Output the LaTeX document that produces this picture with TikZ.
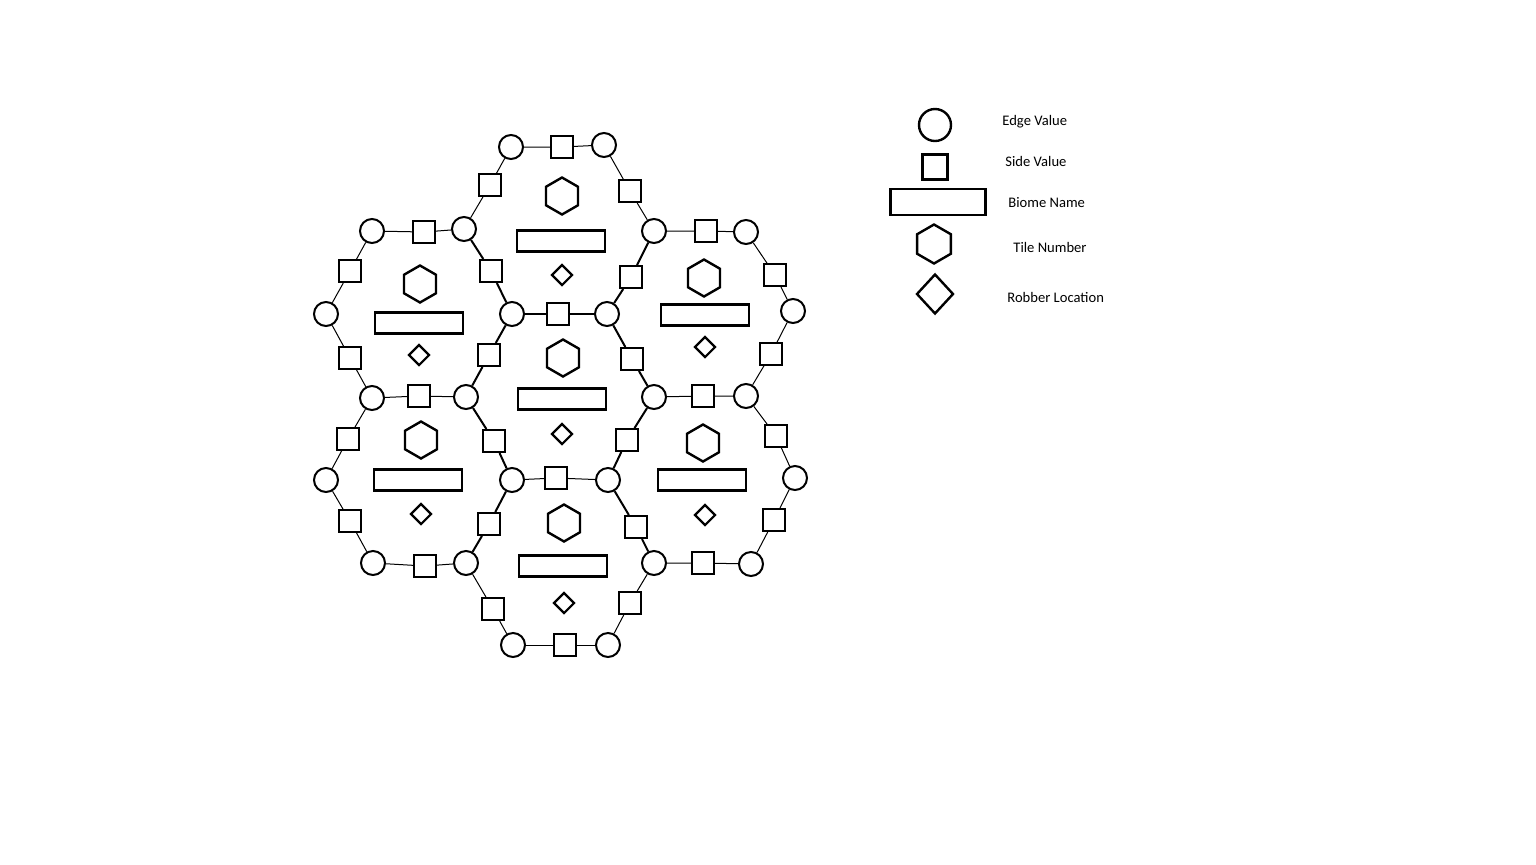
\documentclass[tikz,border=0pt]{standalone}
\usepackage{fontspec}
\setmainfont{Carlito}
\usetikzlibrary{shapes.geometric}

\begin{document}
\begin{tikzpicture}[x=0.5pt, y=-0.5pt,
	corner/.style={draw, circle, line width=1pt, minimum size=12pt, inner sep=0pt, fill=white},
	sidebox/.style={draw, rectangle, line width=1pt, minimum size=11pt, inner sep=0pt, fill=white},
	biome/.style={draw, rectangle, line width=1.2pt, minimum width=44pt, minimum height=10.5pt, inner sep=0pt},
	tile/.style={draw, regular polygon, regular polygon sides=6, shape border rotate=30, line width=1.2pt, minimum size=18.5pt, inner sep=0pt},
	robber/.style={draw, diamond, line width=1.1pt, minimum width=10.5pt, minimum height=10.5pt, inner sep=0pt},
	outer/.style={line width=0.5pt},
	inner/.style={line width=1pt},
	legendtext/.style={anchor=west, inner sep=0pt, font=\fontsize{7.3}{9}\selectfont}]
	\useasboundingbox (0, 0) rectangle (1536, 864);

	\node[corner] (a1) at (511, 147) {};
	\node[corner] (a2) at (604, 145) {};
	\node[corner] (a3) at (654, 231) {};
	\node[corner] (a4) at (607, 314) {};
	\node[corner] (a5) at (512, 314) {};
	\node[corner] (a6) at (464, 229) {};
	\node[corner] (b1) at (372, 231) {};
	\node[corner] (b4) at (466, 397) {};
	\node[corner] (b5) at (372, 398) {};
	\node[corner] (b6) at (326, 314) {};
	\node[corner] (c2) at (746, 232) {};
	\node[corner] (c3) at (793, 311) {};
	\node[corner] (c4) at (746, 396) {};
	\node[corner] (c5) at (654, 397) {};
	\node[corner] (d1) at (608, 480) {};
	\node[corner] (d2) at (512, 480) {};
	\node[corner] (e1) at (466, 563) {};
	\node[corner] (e2) at (373, 563) {};
	\node[corner] (e3) at (326, 480) {};
	\node[corner] (f1) at (795, 478) {};
	\node[corner] (f2) at (751, 564) {};
	\node[corner] (f3) at (654, 563) {};
	\node[corner] (g1) at (608, 645) {};
	\node[corner] (g2) at (513, 645) {};

	\node[sidebox] (s1) at (562, 147) {};
	\node[sidebox] (s2) at (490, 185) {};
	\node[sidebox] (s3) at (630, 191) {};
	\node[sidebox] (s4) at (491, 271) {};
	\node[sidebox] (s5) at (631, 277) {};
	\node[sidebox] (s6) at (558, 314) {};
	\node[sidebox] (s7) at (424, 232) {};
	\node[sidebox] (s8) at (350, 271) {};
	\node[sidebox] (s9) at (350, 358) {};
	\node[sidebox] (s10) at (419, 396) {};
	\node[sidebox] (s11) at (489, 355) {};
	\node[sidebox] (s12) at (706, 231) {};
	\node[sidebox] (s13) at (775, 275) {};
	\node[sidebox] (s14) at (771, 354) {};
	\node[sidebox] (s15) at (703, 396) {};
	\node[sidebox] (s16) at (632, 359) {};
	\node[sidebox] (s17) at (494, 441) {};
	\node[sidebox] (s18) at (627, 440) {};
	\node[sidebox] (s19) at (556, 478) {};
	\node[sidebox] (s20) at (348, 439) {};
	\node[sidebox] (s21) at (350, 521) {};
	\node[sidebox] (s22) at (425, 566) {};
	\node[sidebox] (s23) at (489, 524) {};
	\node[sidebox] (s24) at (776, 436) {};
	\node[sidebox] (s25) at (774, 520) {};
	\node[sidebox] (s26) at (703, 563) {};
	\node[sidebox] (s27) at (636, 527) {};
	\node[sidebox] (s28) at (493, 609) {};
	\node[sidebox] (s29) at (630, 603) {};
	\node[sidebox] (s30) at (565, 645) {};

	\draw[outer] (a1) -- (s1) -- (a2);
	\draw[outer] (a6) -- (s2) -- (a1);
	\draw[outer] (a2) -- (s3) -- (a3);
	\draw[inner] (a6) -- (s4) -- (a5);
	\draw[inner] (a3) -- (s5) -- (a4);
	\draw[inner] (a5) -- (s6) -- (a4);
	\draw[outer] (b1) -- (s7) -- (a6);
	\draw[outer] (b6) -- (s8) -- (b1);
	\draw[outer] (b6) -- (s9) -- (b5);
	\draw[outer] (b5) -- (s10) -- (b4);
	\draw[inner] (b4) -- (s11) -- (a5);
	\draw[outer] (a3) -- (s12) -- (c2);
	\draw[outer] (c2) -- (s13) -- (c3);
	\draw[outer] (c3) -- (s14) -- (c4);
	\draw[outer] (c5) -- (s15) -- (c4);
	\draw[inner] (a4) -- (s16) -- (c5);
	\draw[inner] (b4) -- (s17) -- (d2);
	\draw[inner] (c5) -- (s18) -- (d1);
	\draw[outer] (d2) -- (s19) -- (d1);
	\draw[outer] (b5) -- (s20) -- (e3);
	\draw[outer] (e3) -- (s21) -- (e2);
	\draw[outer] (e2) -- (s22) -- (e1);
	\draw[inner] (e1) -- (s23) -- (d2);
	\draw[outer] (c4) -- (s24) -- (f1);
	\draw[outer] (f1) -- (s25) -- (f2);
	\draw[outer] (f3) -- (s26) -- (f2);
	\draw[inner] (d1) -- (s27) -- (f3);
	\draw[outer] (e1) -- (s28) -- (g2);
	\draw[outer] (f3) -- (s29) -- (g1);
	\draw[outer] (g2) -- (s30) -- (g1);

	\node[tile] (t1) at (562, 196) {};
	\node[biome] (n1) at (561, 241) {};
	\node[robber] (r1) at (562, 275) {};
	\node[tile] (t2) at (420, 284) {};
	\node[biome] (n2) at (419, 323) {};
	\node[robber] (r2) at (419, 355) {};
	\node[tile] (t3) at (704, 278) {};
	\node[biome] (n3) at (705, 315) {};
	\node[robber] (r3) at (705, 347) {};
	\node[tile] (t4) at (563, 358) {};
	\node[biome] (n4) at (562, 399) {};
	\node[robber] (r4) at (562, 434) {};
	\node[tile] (t5) at (421, 440) {};
	\node[biome] (n5) at (418, 480) {};
	\node[robber] (r5) at (421, 514) {};
	\node[tile] (t6) at (703, 443) {};
	\node[biome] (n6) at (702, 480) {};
	\node[robber] (r6) at (705, 515) {};
	\node[tile] (t7) at (564, 523) {};
	\node[biome] (n7) at (563, 566) {};
	\node[robber] (r7) at (564, 603) {};

	\node[corner, minimum size=16pt, line width=1.2pt] (keycorner) at (935, 125) {};
	\node[sidebox, minimum size=12.5pt, line width=1.2pt] (keyside) at (935, 167) {};
	\node[biome, minimum width=47.5pt, minimum height=13pt] (keybiome) at (938, 202) {};
	\node[tile, minimum size=19.5pt] (keytile) at (934, 244) {};
	\node[robber, minimum width=18.5pt, minimum height=20pt, line width=1.2pt] (keyrobber) at (935, 294) {};

	\node[legendtext] (l1) at (1002, 122) {Edge Value};
	\node[legendtext] (l2) at (1005, 161) {Side Value};
	\node[legendtext] (l3) at (1008, 203) {Biome Name};
	\node[legendtext] (l4) at (1013, 247) {Tile Number};
	\node[legendtext] (l5) at (1007, 297) {Robber Location};

\end{tikzpicture}
\end{document}
